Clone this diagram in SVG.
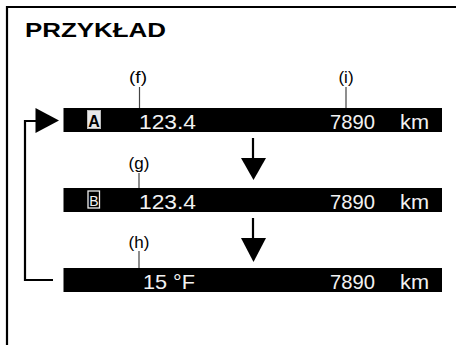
<svg xmlns="http://www.w3.org/2000/svg" width="456" height="345" viewBox="0 0 456 345">
<defs>
<style>
.frame{stroke:#000;stroke-width:2.2;fill:none}
.bar{fill:#000}
.lcd{font-family:"Liberation Sans",Arial,sans-serif;font-size:21px;fill:#f2f2f2}
.lbl{font-family:"Liberation Sans",Arial,sans-serif;font-size:17px;fill:#000;text-anchor:middle}
.lead{stroke:#444;stroke-width:1.2}
.conn{stroke:#000;stroke-width:2.2;fill:none}
.head{fill:#000}
</style>
</defs>
<rect width="456" height="345" fill="#fff"/>
<path class="frame" d="M7,346 V7 H457"/>
<text x="25" y="37" font-family="Liberation Sans,Arial,sans-serif" font-weight="bold" font-size="20.5" textLength="141" lengthAdjust="spacingAndGlyphs">PRZYKŁAD</text>

<g id="connectors">
<path class="conn" d="M253,138 V159"/>
<polygon class="head" points="241,158 266,158 253.5,180"/>
<path class="conn" d="M253,218 V239"/>
<polygon class="head" points="241,238 266,238 253.5,262"/>
<path class="conn" d="M53,280 H25 V121 H37"/>
<polygon class="head" points="35.5,108 35.5,133 59,120.5"/>
</g>

<g id="bar1">
<rect class="bar" x="63.5" y="108" width="378.5" height="24"/>
<rect x="87.5" y="110.5" width="13" height="18" fill="#e8e8e8" stroke="#bbb" stroke-width="1"/>
<text x="94" y="126.5" font-family="Liberation Sans,Arial,sans-serif" font-weight="bold" font-size="16" fill="#000" text-anchor="middle">A</text>
<text class="lcd" x="139" y="128.5" textLength="57" lengthAdjust="spacingAndGlyphs">123.4</text>
<text class="lcd" x="330" y="128.5" textLength="45" lengthAdjust="spacingAndGlyphs">7890</text>
<text class="lcd" x="400" y="128.5" textLength="29" lengthAdjust="spacingAndGlyphs">km</text>
</g>

<g id="bar2">
<rect class="bar" x="63.5" y="188" width="378.5" height="24"/>
<rect x="88" y="191" width="11.5" height="17" fill="#000" stroke="#eee" stroke-width="1.3"/>
<text x="93.8" y="205.5" font-family="Liberation Sans,Arial,sans-serif" font-size="14" fill="#f2f2f2" text-anchor="middle">B</text>
<text class="lcd" x="139" y="208.5" textLength="57" lengthAdjust="spacingAndGlyphs">123.4</text>
<text class="lcd" x="330" y="208.5" textLength="45" lengthAdjust="spacingAndGlyphs">7890</text>
<text class="lcd" x="400" y="208.5" textLength="29" lengthAdjust="spacingAndGlyphs">km</text>
</g>

<g id="bar3">
<rect class="bar" x="63.5" y="268" width="378.5" height="24"/>
<text class="lcd" x="143" y="288.5" textLength="52" lengthAdjust="spacingAndGlyphs">15 °F</text>
<text class="lcd" x="330" y="288.5" textLength="45" lengthAdjust="spacingAndGlyphs">7890</text>
<text class="lcd" x="400" y="288.5" textLength="29" lengthAdjust="spacingAndGlyphs">km</text>
</g>

<g id="label-f">
<text class="lbl" x="138" y="82.5" textLength="18" lengthAdjust="spacingAndGlyphs">(f)</text>
<line class="lead" x1="139.5" y1="87" x2="139.5" y2="108"/>
</g>
<g id="label-i">
<text class="lbl" x="346" y="82.5">(i)</text>
<line class="lead" x1="346" y1="87" x2="346" y2="108"/>
</g>
<g id="label-g">
<text class="lbl" x="139" y="168.5">(g)</text>
<line class="lead" x1="139" y1="173" x2="139" y2="188"/>
</g>
<g id="label-h">
<text class="lbl" x="139" y="247.5">(h)</text>
<line class="lead" x1="139" y1="251" x2="139" y2="268"/>
</g>
</svg>
